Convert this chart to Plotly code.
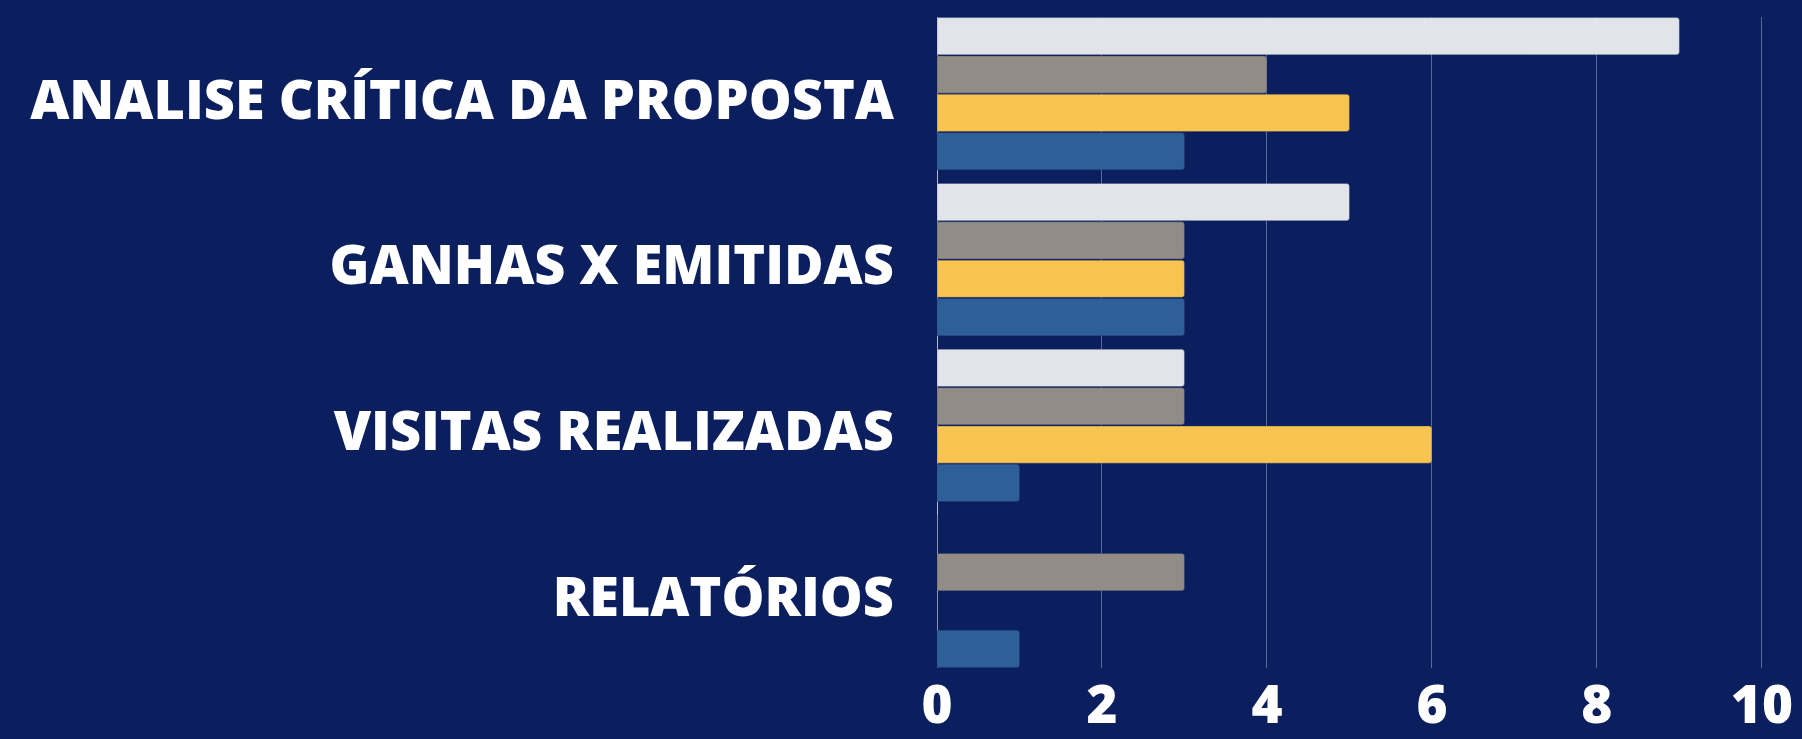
import plotly.graph_objects as go

categories = ["ANALISE CRÍTICA DA PROPOSTA", "GANHAS X EMITIDAS", "VISITAS REALIZADAS", "RELATÓRIOS"]
series_names = ["Série 1", "Série 2", "Série 3", "Série 4"]
serie1 = [9, 5, 3, 0]
serie2 = [4, 3, 3, 3]
serie3 = [5, 3, 6, 0]
serie4 = [3, 3, 1, 1]
x_ticks = [0, 2, 4, 6, 8, 10]

colors = ["#e1e5ea", "#918c86", "#f7c44f", "#2e5f98"]
BG = "#0b1e5e"
FONT = "Open Sans"

fig = go.Figure()
for name, vals, col in zip(series_names, [serie1, serie2, serie3, serie4], colors):
    fig.add_trace(go.Bar(
        y=categories, x=vals, name=name, orientation="h",
        marker=dict(color=col, line=dict(color="rgba(40,50,100,0.6)", width=0.6)),
        showlegend=False, hoverinfo="x+name",
    ))

gap = 0.075
fig.update_layout(
    width=1802, height=739,
    paper_bgcolor=BG, plot_bgcolor=BG,
    barmode="group", bargap=gap, bargroupgap=0.03,
    barcornerradius=3,
    margin=dict(l=937, r=36, t=17, b=71, autoexpand=False),
    xaxis=dict(
        range=[0, 10.05], tickvals=x_ticks, showgrid=True, automargin=False,
        gridcolor="rgba(170,180,215,0.5)", gridwidth=1.2,
        zeroline=True, zerolinecolor="rgba(220,225,240,0.8)", zerolinewidth=1.2,
        tickfont=dict(family=FONT, size=53, color="white", weight=800),
        ticks="", ticklabelstandoff=1, fixedrange=True,
    ),
    yaxis=dict(
        autorange=False, range=[3.5 - gap / 2, -0.5 + gap / 2], automargin=False,
        showgrid=False, zeroline=False, ticks="",
        tickfont=dict(family=FONT, size=54, color="white", weight=800),
        ticklabelstandoff=42, ticklabelshift=-6, fixedrange=True,
    ),
)

fig.write_html("out.html", config={"displayModeBar": False},
               post_script="document.body.style.margin='0';document.body.style.overflow='hidden';")
